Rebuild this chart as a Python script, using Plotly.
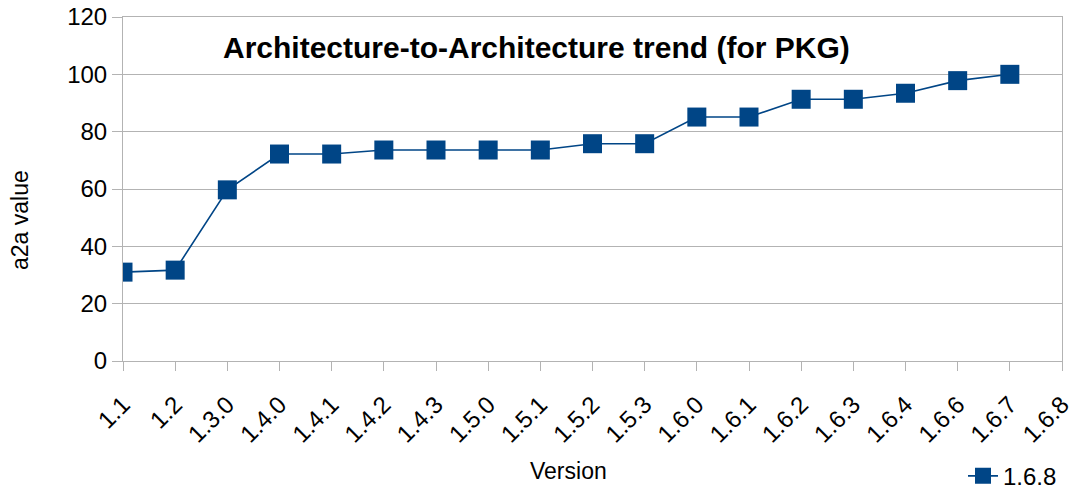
import plotly.graph_objects as go

versions = ["1.1", "1.2", "1.3.0", "1.4.0", "1.4.1", "1.4.2", "1.4.3", "1.5.0", "1.5.1",
            "1.5.2", "1.5.3", "1.6.0", "1.6.1", "1.6.2", "1.6.3", "1.6.4", "1.6.6", "1.6.7", "1.6.8"]
a2a_values = [31.0, 31.7, 59.7, 72.2, 72.2, 73.6, 73.6, 73.6, 73.6,
              75.8, 75.8, 85.1, 85.1, 91.3, 91.3, 93.4, 97.8, 100.0]
y_ticks = [0, 20, 40, 60, 80, 100, 120]

BLUE = "#004586"
GRID = "#b3b3b3"
FONT = "Liberation Sans, Arial, sans-serif"

fig = go.Figure()
fig.add_trace(go.Scatter(
    x=versions[:len(a2a_values)],
    y=a2a_values,
    mode="lines+markers",
    name="1.6.8",
    line=dict(color=BLUE, width=1.6),
    marker=dict(symbol="square", size=19, color=BLUE, line=dict(width=0)),
))

# chart title sits inside the plotting area
fig.add_annotation(
    text="<b>Architecture-to-Architecture trend (for PKG)</b>",
    xref="paper", yref="paper", x=0.44, y=0.91,
    xanchor="center", yanchor="middle", showarrow=False,
    font=dict(family=FONT, size=30, color="#000000"),
)
# axis titles
fig.add_annotation(
    text="Version", xref="paper", yref="paper", x=0.474, y=-0.32,
    xanchor="center", yanchor="middle", showarrow=False,
    font=dict(family=FONT, size=23, color="#000000"),
)
fig.add_annotation(
    text="a2a value", xref="paper", yref="paper", x=0, xshift=-103, y=0.41,
    xanchor="center", yanchor="middle", showarrow=False, textangle=-90,
    font=dict(family=FONT, size=23, color="#000000"),
)

fig.update_layout(
    width=1075, height=490,
    margin=dict(l=123, r=13, t=17, b=129, autoexpand=False),
    paper_bgcolor="white", plot_bgcolor="white",
    font=dict(family=FONT, color="#000000"),
    showlegend=True,
    legend=dict(
        x=1.0, y=-0.335, xanchor="right", yanchor="middle",
        font=dict(family=FONT, size=24), bgcolor="rgba(0,0,0,0)",
    ),
    xaxis=dict(
        type="category", categoryorder="array", categoryarray=versions,
        range=[0, len(versions) - 1], automargin=False,
        tickmode="array", tickvals=versions, ticktext=versions,
        tickangle=-45, tickfont=dict(size=24), ticklabelstandoff=10,
        ticks="outside", ticklen=9, tickcolor=GRID, tickwidth=1,
        showline=True, linecolor=GRID, linewidth=1, mirror=True,
        showgrid=False, zeroline=False,
    ),
    yaxis=dict(
        range=[0, 120], tickvals=y_ticks, automargin=False,
        tickfont=dict(size=24),
        ticks="outside", ticklen=10, tickcolor=GRID, tickwidth=1,
        showline=True, linecolor=GRID, linewidth=1, mirror=True,
        showgrid=True, gridcolor=GRID, gridwidth=1, zeroline=False,
    ),
)

fig.write_html("out.html")
